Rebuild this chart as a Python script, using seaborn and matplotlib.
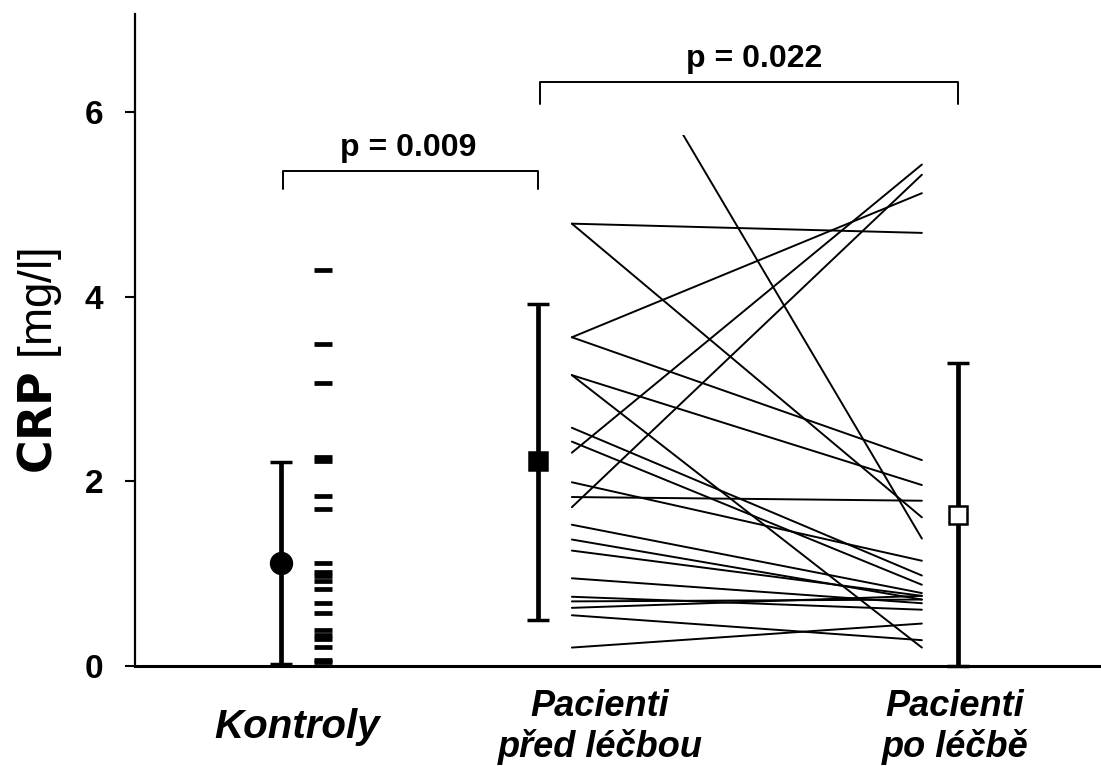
import numpy as np
import pandas as pd
import matplotlib
matplotlib.use("Agg")
import matplotlib.pyplot as plt
from matplotlib.patches import Rectangle
import seaborn as sns

# ---------------- data ----------------
groups = ["Kontroly", "Pacienti\npřed léčbou", "Pacienti\npo léčbě"]
group_means = [1.12, 2.22, 1.63]
group_err_low = [0.02, 0.50, 0.00]
group_err_high = [2.21, 3.92, 3.28]

controls = [4.29, 3.49, 3.06, 2.26, 2.22, 1.84, 1.70, 1.12, 1.02, 0.97, 0.92,
            0.83, 0.68, 0.57, 0.39, 0.34, 0.29, 0.21, 0.07, 0.04]

before = [4.79, 4.79, 3.56, 3.56, 3.15, 3.15, 2.58, 2.43, 2.31, 1.99, 1.83,
          1.72, 1.53, 1.37, 1.25, 0.95, 0.75, 0.70, 0.63, 0.55, 0.20, 7.79]
after = [4.69, 1.61, 5.12, 2.23, 1.96, 0.20, 0.98, 0.88, 5.43, 1.14, 1.79,
         5.32, 0.79, 0.72, 0.76, 0.68, 0.61, 0.72, 0.76, 0.28, 0.46, 1.38]

p_labels = ["p = 0.009", "p = 0.022"]

# ---------------- layout / style ----------------
X_CTRL_MEAN, X_CTRL_PTS = 0.0, 0.163
X_BEFORE_MEAN, X_PAIR_START = 1.0, 1.132
X_PAIR_END, X_AFTER_MEAN = 2.494, 2.634
TICK_POS = [0.062, 1.241, 2.623]
PAIR_CLIP_TOP = 5.75

sns.set_theme(style="white")
plt.rcParams["font.family"] = ["Liberation Sans", "DejaVu Sans"]
plt.rcParams["text.color"] = "black"
plt.rcParams["axes.labelcolor"] = "black"
plt.rcParams["xtick.color"] = "black"
plt.rcParams["ytick.color"] = "black"

fig = plt.figure(figsize=(11.01, 7.66), dpi=100)
ax = fig.add_axes([0.1226, 0.1305, 0.8774, 0.8512])

# paired patient lines
n = len(before)
pairs = pd.DataFrame({
    "id": list(range(n)) * 2,
    "x": [X_PAIR_START] * n + [X_PAIR_END] * n,
    "crp": before + after,
})
n_lines_before = len(ax.lines)
sns.lineplot(data=pairs, x="x", y="crp", units="id", estimator=None,
             color="black", linewidth=1.4, ax=ax, legend=False)
clip = Rectangle((-1, -1), 10, PAIR_CLIP_TOP + 1, transform=ax.transData)
for ln in ax.lines[n_lines_before:]:
    ln.set_clip_path(clip)

# control individual values (dashes)
ctrl_df = pd.DataFrame({"x": [X_CTRL_PTS] * len(controls), "crp": controls})
sns.scatterplot(data=ctrl_df, x="x", y="crp", marker="_", s=170,
                linewidth=3.4, color="black", ax=ax, legend=False, clip_on=False)

# means with ranges
mean_x = [X_CTRL_MEAN, X_BEFORE_MEAN, X_AFTER_MEAN]
styles = [dict(marker="o", ms=15, mfc="black"),
          dict(marker="s", ms=13, mfc="black"),
          dict(marker="s", ms=13, mfc="white")]
for xm, m, lo, hi, st in zip(mean_x, group_means, group_err_low,
                             group_err_high, styles):
    ax.errorbar([xm], [m], yerr=[[m - lo], [hi - m]], fmt="none",
                ecolor="black", elinewidth=3.4, capsize=8, capthick=2.5,
                clip_on=False, zorder=4)
    ax.plot([xm], [m], marker=st["marker"], ms=st["ms"], mfc=st["mfc"],
            mec="black", mew=1.8, ls="none", zorder=5, clip_on=False)

# significance brackets
brackets = [(X_CTRL_MEAN + 0.008, X_BEFORE_MEAN, 5.36, 5.16, 5.61, -0.01),
            (X_BEFORE_MEAN + 0.008, X_AFTER_MEAN, 6.32, 6.09, 6.57, 0.02)]
for (x0, x1, ytop, ybot, ytxt, dx), lab in zip(brackets, p_labels):
    ax.plot([x0, x0, x1, x1], [ybot, ytop, ytop, ybot], color="black", lw=1.4)
    ax.text((x0 + x1) / 2 + dx, ytxt, lab, ha="center", va="center",
            fontsize=23, fontweight="bold", color="black")

# axes
ax.set_xlim(-0.568, 3.191)
ax.set_ylim(0, 7.06)
ax.set_yticks([0, 2, 4, 6])
ax.set_yticklabels(["0", "2", "4", "6"], fontsize=24, fontweight="bold")
ax.set_xticks(TICK_POS)
ax.set_xticklabels(groups, fontweight="bold", style="italic",
                   linespacing=1.2)
for lab, fs in zip(ax.get_xticklabels(), [29, 26, 26]):
    lab.set_va("center")
    lab.set_fontsize(fs)
ax.tick_params(axis="x", length=0, pad=44)
ax.tick_params(axis="y", length=7, width=1.5, direction="out", pad=16,
               left=True, colors="black")
ax.set_xlabel("")
ax.set_ylabel("")
for s in ["top", "right"]:
    ax.spines[s].set_visible(False)
ax.spines["left"].set_linewidth(1.6)
ax.spines["bottom"].set_linewidth(2.2)
ax.spines["left"].set_color("black")
ax.spines["bottom"].set_color("black")

fig.text(0.036, 0.529, r"$\bf{CRP}$ [mg/l]", rotation=90, ha="center",
         va="center", fontsize=33, color="black")

fig.savefig("out.png", dpi=100, facecolor="white")
